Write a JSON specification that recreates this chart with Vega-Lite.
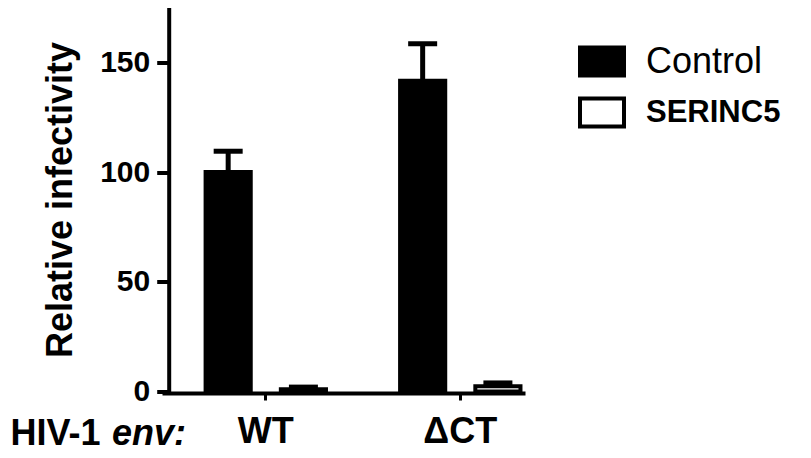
{
  "$schema": "https://vega.github.io/schema/vega-lite/v6.json",
  "width": 363,
  "height": 384,
  "autosize": "none",
  "padding": {"left": 162, "top": 7.5, "right": 286, "bottom": 66.5},
  "background": "white",
  "config": {"font": "Liberation Sans", "view": {"stroke": null}},
  "title": {"text": "env:", "orient": "bottom", "anchor": "start", "frame": "group", "fontStyle": "italic", "fontWeight": "bold", "fontSize": 36, "color": "black", "dx": -50, "dy": -6, "offset": 0, "baseline": "alphabetic"},
  "data": {"values": [
    {"env": "WT", "condition": "Control", "value": 100, "upper": 109.5},
    {"env": "WT", "condition": "SERINC5", "value": 1, "upper": 2},
    {"env": "ΔCT", "condition": "Control", "value": 141.6, "upper": 158.5},
    {"env": "ΔCT", "condition": "SERINC5", "value": 2.4, "upper": 3.9}
  ]},
  "encoding": {
    "x": {"field": "env", "type": "nominal", "sort": ["WT", "ΔCT"],
      "scale": {"paddingInner": 0.381, "paddingOuter": 0.1237, "align": 0.906},
      "axis": {"title": "HIV-1", "titleX": -152, "titleY": 51, "titleAlign": "left", "titleBaseline": "alphabetic", "titleFontSize": 36, "titleFontWeight": "bold", "titleColor": "black",
        "labelAngle": 0, "labelFontSize": 36, "labelFontWeight": "bold", "labelColor": "black", "labelPadding": 14,
        "tickSize": 7, "tickWidth": 3, "tickColor": "black", "domainWidth": 4, "domainColor": "black", "offset": 1.5}},
    "xOffset": {"field": "condition", "type": "nominal", "sort": ["Control", "SERINC5"], "scale": {"paddingInner": 0.4, "paddingOuter": 0}}
  },
  "layer": [
    {"mark": {"type": "rule", "strokeWidth": 5, "color": "black"},
     "encoding": {"y": {"field": "value", "type": "quantitative", "title": "Relative infectivity"}, "y2": {"field": "upper"}}},
    {"mark": {"type": "tick", "thickness": 5, "size": 29, "color": "black", "opacity": 1},
     "encoding": {"y": {"field": "upper", "type": "quantitative", "title": "Relative infectivity"}}},
    {"mark": {"type": "bar", "stroke": "black", "strokeWidth": 4, "opacity": 1},
     "encoding": {
       "y": {"field": "value", "type": "quantitative", "title": "Relative infectivity",
         "scale": {"domain": [0, 175], "nice": false},
         "axis": {"values": [0, 50, 100, 150], "grid": false, "domainColor": "black", "domainWidth": 4,
           "tickColor": "black", "tickWidth": 4, "tickSize": 12, "labelFontSize": 30, "labelFontWeight": "bold",
           "labelColor": "black", "labelPadding": 7, "offset": -6.7,
           "titleFontSize": 36, "titleFontWeight": "bold", "titleColor": "black", "titlePadding": 20}},
       "fill": {"field": "condition", "type": "nominal",
         "scale": {"domain": ["Control", "SERINC5"], "range": ["black", "white"]},
         "legend": {"title": null, "orient": "none", "legendX": 416, "legendY": 30,
           "symbolType": "M-1,-0.64H1V0.64H-1Z", "symbolSize": 1936, "symbolStrokeColor": "black",
           "symbolStrokeWidth": 4, "symbolOpacity": 1, "labelFontSize": 34, "labelColor": "black",
           "labelOffset": 20, "rowPadding": 4, "padding": 0, "labelLimit": 300,
           "encode": {"labels": {"update": {
             "fontWeight": {"signal": "datum.label === 'SERINC5' ? 'bold' : 'normal'"},
             "fontSize": {"signal": "datum.label === 'SERINC5' ? 31 : 36"}}}}}}
     }}
  ]
}
